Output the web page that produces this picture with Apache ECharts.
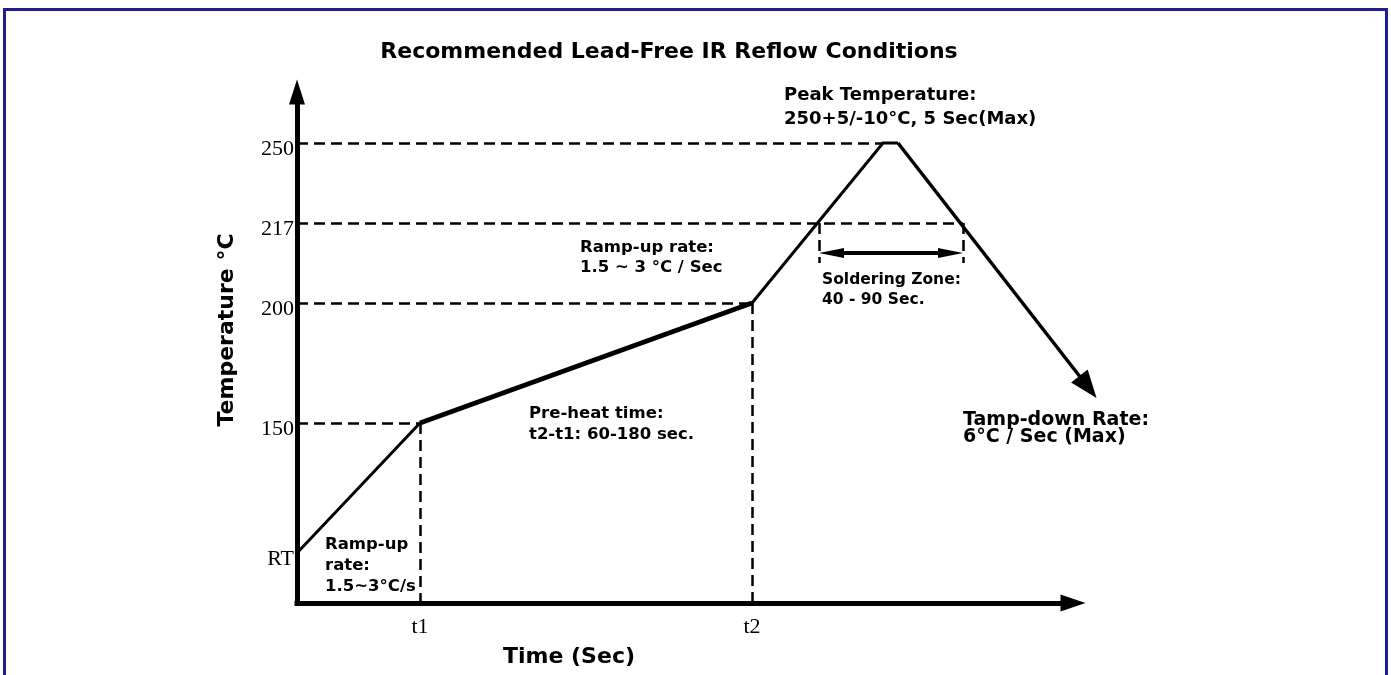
<!DOCTYPE html>
<html>
<head>
<meta charset="utf-8">
<script src="https://cdn.jsdelivr.net/npm/echarts@6/dist/echarts.min.js"></script>
<style>
  html, body { margin: 0; padding: 0; background: #fff; }
  #chart { width: 1391px; height: 675px; }
</style>
</head>
<body>
<div id="chart"></div>
<script>
// the drawing is schematic: each temperature sits on its own level, not to scale
var tempLabels = ['RT', '150', '200', '217', '250'];
var tempLevels = [5, 18, 30, 38, 46];
var timeLabels = ['t1', 't2'];
var timeVals = [12.3, 45.5];
var peakTimes = [58.6, 60.1];       // start / end of the 250 plateau
var liquidusTimes = [52.2, 66.6];   // where the profile crosses 217
var coolEnd = [79.1, 21.6];         // end of the ramp-down arrow
var zoneLevel = 35;                 // soldering zone arrow
var zoneTickLevel = 34;

var lv = {};
tempLabels.forEach(function (t, i) { lv[t] = tempLevels[i]; });
var t1 = timeVals[0], t2 = timeVals[1];

var rampUp = [[0, lv['RT']], [t1, lv['150']]];
var preheat = [[t1, lv['150']], [t2, lv['200']]];
var reflow = [[t2, lv['200']], [peakTimes[0], lv['250']], [peakTimes[1], lv['250']]];
var coolDown = [[peakTimes[1], lv['250']], coolEnd];

var guides = [
  [[0, lv['250']], [peakTimes[0], lv['250']]],
  [[0, lv['217']], [liquidusTimes[1], lv['217']]],
  [[0, lv['200']], [t2, lv['200']]],
  [[0, lv['150']], [t1, lv['150']]],
  [[t1, lv['150']], [t1, 0]],
  [[t2, lv['200']], [t2, 0]],
  [[liquidusTimes[0], lv['217']], [liquidusTimes[0], zoneTickLevel]],
  [[liquidusTimes[1], lv['217']], [liquidusTimes[1], zoneTickLevel]]
];

var FONT = 'DejaVu Sans';
function txt(x, y, s, size, opts) {
  opts = opts || {};
  return {
    type: 'text', x: x, y: y, rotation: opts.rotation || 0, z: 100,
    style: {
      text: s, fill: '#000', font: 'bold ' + size + 'px "' + FONT + '"',
      align: opts.align || 'left', verticalAlign: 'middle'
    }
  };
}

var chart = echarts.init(document.getElementById('chart'));
chart.setOption({
  animation: false,
  backgroundColor: '#fff',
  grid: { left: 297, top: 92, width: 776, height: 511 },
  xAxis: {
    type: 'value', min: 0, max: 77.6,
    axisLine: { show: true, symbol: ['none', 'triangle'], symbolSize: [17, 25],
      lineStyle: { color: '#000', width: 5, cap: 'square' } },
    axisTick: { show: false },
    splitLine: { show: false },
    axisLabel: {
      customValues: timeVals, margin: 13,
      fontFamily: 'Liberation Serif', fontSize: 22, color: '#000',
      formatter: function (v) { var i = timeVals.indexOf(v); return i >= 0 ? timeLabels[i] : ''; }
    }
  },
  yAxis: {
    type: 'value', min: 0, max: 51.1,
    axisLine: { show: true, symbol: ['none', 'triangle'], symbolSize: [16, 25],
      lineStyle: { color: '#000', width: 5, cap: 'square' } },
    axisTick: { show: false },
    splitLine: { show: false },
    axisLabel: {
      customValues: tempLevels, margin: 3,
      fontFamily: 'Liberation Serif', fontSize: 22, color: '#000',
      rich: { v: { fontFamily: 'Liberation Serif', fontSize: 22, color: '#000', padding: [13, 0, 0, 0] } },
      formatter: function (v) { var i = tempLevels.indexOf(v); return i >= 0 ? '{v|' + tempLabels[i] + '}' : ''; }
    }
  },
  series: [
    {
      type: 'lines', coordinateSystem: 'cartesian2d', silent: true, clip: false, z: 2,
      lineStyle: { color: '#000', width: 2.5, type: [11, 6], opacity: 1 },
      data: guides.map(function (g) { return { coords: g }; })
    },
    {
      type: 'line', data: rampUp, symbol: 'none', clip: false, z: 5,
      lineStyle: { color: '#000', width: 3 }
    },
    {
      type: 'line', data: preheat, symbol: 'none', clip: false, z: 5,
      lineStyle: { color: '#000', width: 5 }
    },
    {
      type: 'line', data: reflow, symbol: 'none', clip: false, z: 5,
      lineStyle: { color: '#000', width: 3, join: 'miter' }
    },
    {
      type: 'lines', coordinateSystem: 'cartesian2d', silent: true, clip: false, z: 5,
      symbol: ['none', 'triangle'], symbolSize: [[21, 28], [21, 28]],
      lineStyle: { color: '#000', width: 3.5, opacity: 1 },
      data: [{ coords: coolDown }]
    },
    {
      type: 'lines', coordinateSystem: 'cartesian2d', silent: true, clip: false, z: 5,
      symbol: ['triangle', 'triangle'], symbolSize: [[10, 25], [10, 25]],
      lineStyle: { color: '#000', width: 4, opacity: 1 },
      data: [{ coords: [[liquidusTimes[0] + 1.25, zoneLevel], [liquidusTimes[1] - 1.25, zoneLevel]] }]
    }
  ],
  graphic: [
    { type: 'rect', z: 0, shape: { x: 4.5, y: 9.5, width: 1382, height: 720 },
      style: { fill: 'none', stroke: '#1f1f8f', lineWidth: 3 } },
    txt(669, 52, 'Recommended Lead-Free IR Reflow Conditions', 22, { align: 'center' }),
    txt(784, 95, 'Peak Temperature:', 18),
    txt(784, 119, '250+5/-10°C, 5 Sec(Max)', 18),
    txt(580, 248, 'Ramp-up rate:', 16.5),
    txt(580, 268, '1.5 ~ 3 °C / Sec', 16.5),
    txt(822, 280, 'Soldering Zone:', 15.5),
    txt(822, 300, '40 - 90 Sec.', 15.5),
    txt(529, 414, 'Pre-heat time:', 16.5),
    txt(529, 435, 't2-t1: 60-180 sec.', 16.5),
    txt(325, 545, 'Ramp-up', 16.5),
    txt(325, 566, 'rate:', 16.5),
    txt(325, 587, '1.5~3°C/s', 16.5),
    txt(963, 420, 'Tamp-down Rate:', 19),
    txt(963, 437, '6°C / Sec (Max)', 19),
    txt(227, 330, 'Temperature °C', 22, { rotation: Math.PI / 2, align: 'center' }),
    txt(569, 657, 'Time (Sec)', 22, { align: 'center' })
  ]
});
</script>
</body>
</html>
